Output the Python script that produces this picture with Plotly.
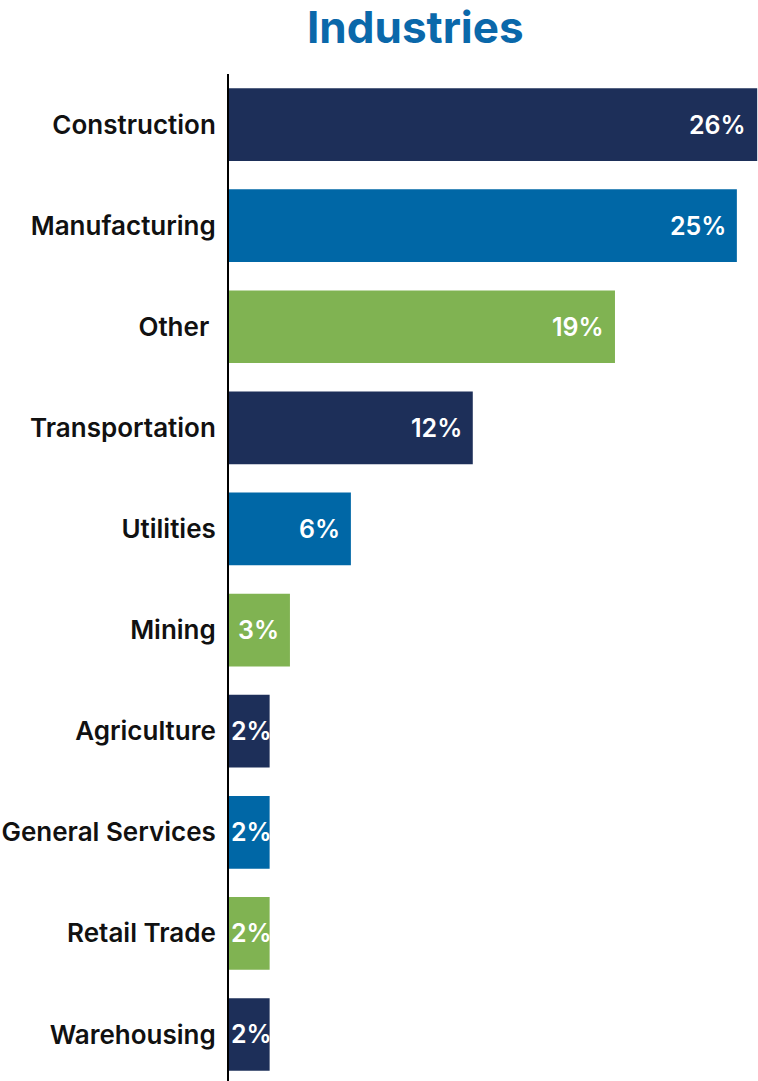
import plotly.graph_objects as go

# Share of records by industry, in percent
industries = ["Construction", "Manufacturing", "Other ", "Transportation", "Utilities",
              "Mining", "Agriculture", "General Services", "Retail Trade", "Warehousing"]
shares = [26, 25, 19, 12, 6, 3, 2, 2, 2, 2]
value_labels = ["26%", "25%", "19%", "12%", "6%", "3%", "2%", "2%", "2%", "2%"]

NAVY = "#1d2f59"
BLUE = "#0067a6"
GREEN = "#80b352"
bar_colors = [NAVY, BLUE, GREEN, NAVY, BLUE, GREEN, NAVY, BLUE, GREEN, NAVY]

FONT = "Inter"

fig = go.Figure(
    go.Bar(
        x=shares,
        y=industries,
        orientation="h",
        marker=dict(color=bar_colors, line=dict(width=0)),
        hoverinfo="skip",
    )
)

# Value labels: right-aligned inside the bar end; short bars start them at the axis
for name, v, lab in zip(industries, shares, value_labels):
    if v >= 3:
        fig.add_annotation(x=v, y=name, text=lab, xanchor="right", xshift=-9,
                           showarrow=False,
                           font=dict(family=FONT, size=25, color="white", weight=600))
    else:
        fig.add_annotation(x=0, y=name, text=lab, xanchor="left", xshift=0,
                           showarrow=False,
                           font=dict(family=FONT, size=25, color="white", weight=600))

fig.add_annotation(
    xref="paper", yref="paper", x=(415.5 - 229) / 529, y=1, yshift=75,
    text="Industries", showarrow=False, xanchor="center", yanchor="top",
    borderpad=0,
    font=dict(family=FONT, size=44, color="#0a68aa", weight="bold"),
)

fig.update_layout(
    width=758,
    height=1081,
    margin=dict(l=229, r=0, t=74, b=0),
    paper_bgcolor="white",
    plot_bgcolor="white",
    bargap=0.281,
    showlegend=False,
    xaxis=dict(range=[0, 26.04], visible=False, fixedrange=True),
    yaxis=dict(
        type="category",
        range=[9.46, -0.5],
        showline=True,
        linecolor="black",
        linewidth=2,
        showgrid=False,
        zeroline=False,
        ticks="",
        ticklabelstandoff=6,
        tickfont=dict(family=FONT, size=26, color="#111111", weight=600),
        fixedrange=True,
    ),
)

fig.write_html("out.html")
